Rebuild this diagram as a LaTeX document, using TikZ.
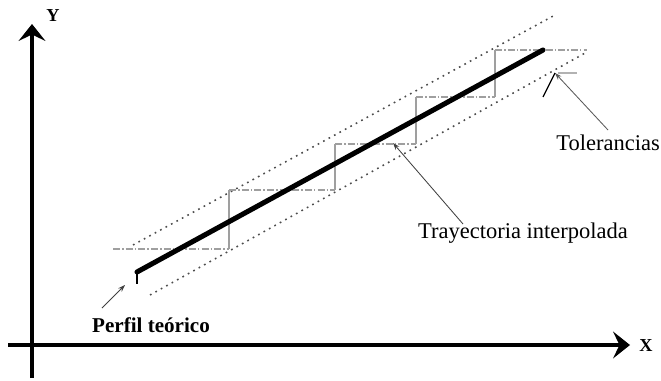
\documentclass[tikz,border=0pt]{standalone}
\usepackage{fontspec}
\setmainfont{Liberation Serif}
\usetikzlibrary{arrows.meta}
\tikzset{
  axis/.style={line width=2.8pt,-{Stealth[length=12pt,width=19pt,inset=4.5pt]}},
  axlbl/.style={font=\fontsize{13}{15}\selectfont\bfseries,inner sep=0pt},
  profile/.style={line width=3.6pt,line cap=round},
  stairh/.style={gray!75,line width=1pt,dash pattern=on 5pt off 1.5pt on 1pt off 1.5pt},
  stairv/.style={gray!75,line width=1.1pt},
  tol/.style={gray!60!black,line width=1.1pt,dash pattern=on 1.2pt off 3.2pt},
  pointer/.style={line width=0.6pt,black!75,-{Stealth[length=5pt,width=3.5pt]}},
  lbl/.style={font=\fontsize{16}{18}\selectfont,inner sep=0pt}
}

\begin{document}
\begin{tikzpicture}[x=0.025cm,y=-0.025cm]
  \useasboundingbox (0,0) rectangle (661,380);

  % Axes
  \coordinate (Xs) at (8,345);
  \coordinate (Xe) at (630,345);
  \coordinate (Ys) at (32,378);
  \coordinate (Ye) at (32,24);
  \draw[axis] (Xs) -- (Xe);
  \draw[axis] (Ys) -- (Ye);
  \node[axlbl] (xl) at (646,346) {X};
  \node[axlbl] (yl) at (53,16) {Y};

  % Tolerance band (upper and lower)
  \coordinate (U0) at (133,245);
  \coordinate (U1) at (555,15);
  \coordinate (L0) at (150,295);
  \coordinate (L1) at (587,52);
  \draw[tol] (U0) -- (U1);
  \draw[tol] (L0) -- (L1);

  % Interpolated path (steps)
  \draw[stairh] (113,249) -- (229,249);
  \draw[stairv] (229,249) -- (229,190);
  \draw[stairh] (229,190) -- (335,190);
  \draw[stairv] (335,190) -- (335,144);
  \draw[stairh] (335,144) -- (416,144);
  \draw[stairv] (416,144) -- (416,97);
  \draw[stairh] (416,97) -- (495,97);
  \draw[stairv] (495,97) -- (495,50);
  \draw[stairh] (495,50) -- (587,50);

  % Theoretical profile
  \coordinate (P0) at (137,272);
  \coordinate (P1) at (543,50);
  \draw[profile] (P0) -- (P1);
  \draw[line width=1.4pt] (P0) -- ++(0,12);

  % Labels
  \node[lbl,font=\fontsize{15}{17}\selectfont\bfseries] (perfil) at (151,325) {Perfil teórico};
  \node[lbl] (tray) at (523,233) {Trayectoria interpolada};
  \node[lbl,anchor=east] (tol) at (660,143) {Tolerancias};

  % Pointers
  \coordinate (pf) at (125,285);
  \coordinate (pfT) at (102,308);
  \coordinate (tr) at (393,143);
  \coordinate (trT) at (463,224);
  \coordinate (tl) at (555,73);
  \coordinate (tlT) at (608,130);
  \draw[pointer] (pfT) -- (pf);
  \draw[pointer] (trT) -- (tr);
  \draw[pointer,gray!70!black] (tlT) -- (tl);
  \draw[line width=0.9pt] (tl) -- (543,97);
  \draw[gray!60,line width=1pt] (558,73) -- (577,73);
\end{tikzpicture}
\end{document}
